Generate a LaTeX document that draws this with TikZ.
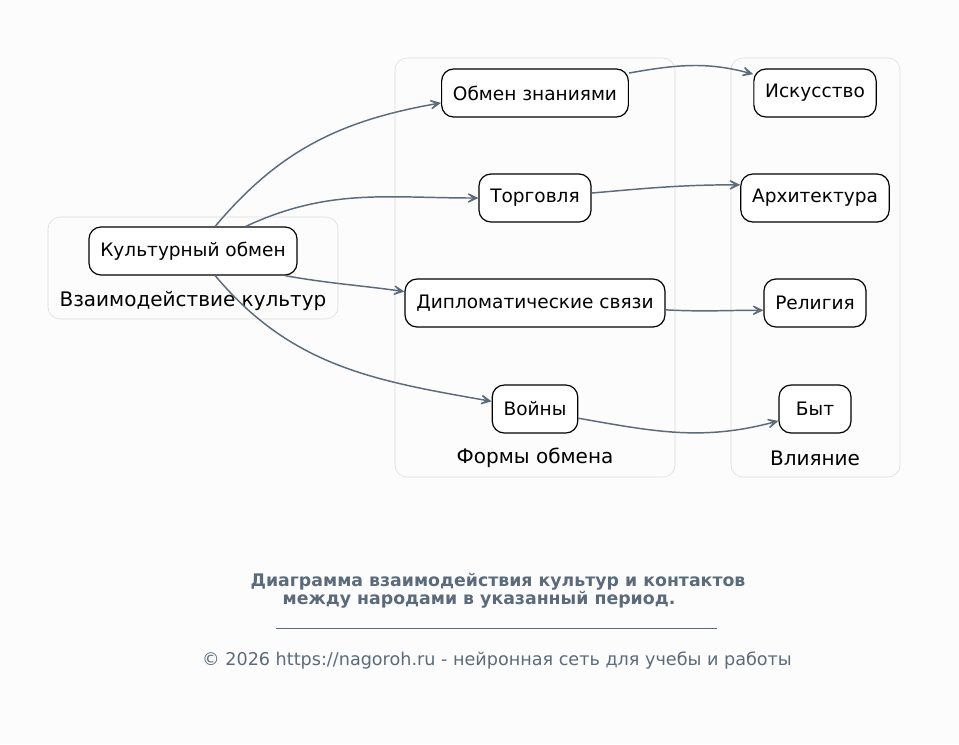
\documentclass[tikz,border=0pt]{standalone}
\usepackage{fontspec}
\setmainfont{DejaVu Sans}
\usetikzlibrary{arrows.meta}
\definecolor{edgec}{HTML}{5B6B7B}
\definecolor{clc}{HTML}{DADADA}
\definecolor{bgc}{HTML}{FCFCFC}
\begin{document}
\begin{tikzpicture}[x=0.75pt,y=0.75pt]
\tikzset{n/.style={draw=black,line width=0.9pt,rounded corners=9pt,fill=white,minimum height=36pt,minimum width=54pt,inner xsep=8.5pt,font=\fontsize{13.9}{16}\selectfont},
cl/.style={draw=clc,rounded corners=9pt},
lbl/.style={font=\fontsize{15}{18}\selectfont},
e/.style={draw=edgec,line width=1.1pt,-{Stealth[length=13pt,width=12.5pt,inset=9pt]}}}
\path[fill=bgc](0,0)rectangle(959,-744);
%%Khung nhóm
\draw[cl](48,-217)rectangle(338,-319);
\draw[cl](395,-58)rectangle(675,-477);
\draw[cl](731,-58)rectangle(900,-477);
\path(193,-301)node[lbl](Lk){Взаимодействие культур}
(535,-458)node[lbl](Lf){Формы обмена}
(815,-458)node[lbl](Lv){Влияние};
%%Node
\path(193,-251)node[n](K){Культурный обмен};
\path(535,-93)node[n](ZN){Обмен знаниями}++(0,-105)node[n](T){Торговля}++(0,-105)node[n](DP){Дипломатические связи}++(0,-106)node[n](W){Войны};
\path(815,-93)node[n](I){Искусство}++(0,-105)node[n](A){Архитектура}++(0,-105)node[n](R){Религия}++(0,-106)node[n](B){Быт};
\foreach \x/\y/\o/\i in {
K.48/ZN.186/50/190,
K.25/T.west/25/180,
K.-15/DP.175/-10/172,
K.-48/W.170/-50/170,
ZN.12/I.163/10/165,
T.5/A.170/5/180,
DP.-3/R.188/-3/180,
W.-12/B.198/-10/195}
\draw[e](\x)to[out=\o,in=\i](\y);
%%Chú thích
\path(498,-582)node[font=\fontsize{13}{15}\selectfont\bfseries,text=edgec](C1){Диаграмма взаимодействия культур и контактов}
(479,-600)node[font=\fontsize{13}{15}\selectfont\bfseries,text=edgec](C2){между народами в указанный период.};
\coordinate(U1)at(276,-628);
\coordinate(U2)at(717,-628);
\draw[edgec,line width=0.6pt](U1)--(U2);
\path(497,-660)node[font=\fontsize{13.2}{15}\selectfont,text=edgec](Cp){© 2026 https://nagoroh.ru - нейронная сеть для учебы и работы};
\end{tikzpicture}
\end{document}
